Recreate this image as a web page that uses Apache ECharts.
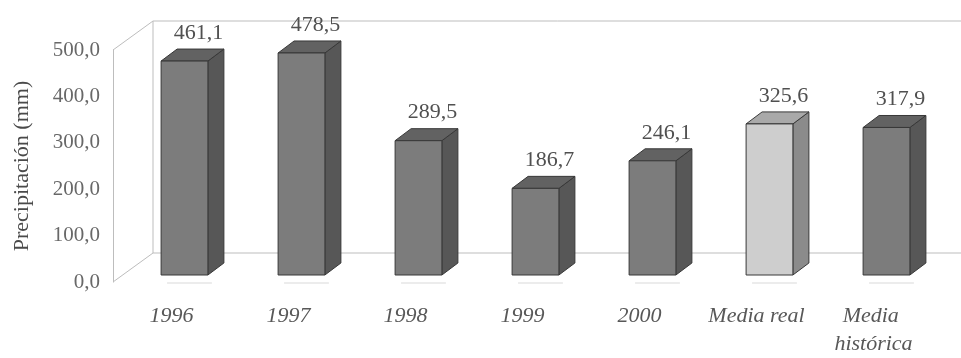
<!DOCTYPE html>
<html>
<head>
<meta charset="utf-8">
<script src="https://cdn.jsdelivr.net/npm/echarts@6/dist/echarts.min.js"></script>
<style>
  html, body { margin: 0; padding: 0; background: #ffffff; }
  #chart { width: 961px; height: 358px; }
</style>
</head>
<body>
<div id="chart"></div>
<script>
// Annual precipitation and the two averages
const categories = ['1996', '1997', '1998', '1999', '2000', 'Media real', 'Media histórica'];
const precipitation = [461.1, 478.5, 289.5, 186.7, 246.1, 325.6, 317.9];
const highlighted = 'Media real';
const yMin = 0;
const yMax = 500;
const yStep = 100;

const SERIF = '"Liberation Serif", "DejaVu Serif", serif';
const fmt = v => v.toFixed(1).replace('.', ',');

// Pseudo-3D geometry (pixels)
const WALL_DX = 40, WALL_DY = -29;        // depth of the floor / back wall
const BAR_SHIFT_X = 13, BAR_SHIFT_Y = -7; // bars sit a little behind the front edge
const BAR_DX = 16, BAR_DY = -12;          // depth of each bar
const BAR_RATIO = 0.40;                   // front face width vs. category band

const normalFill = { front: '#7c7c7c', top: '#626262', side: '#575757' };
const lightFill = { front: '#cecece', top: '#a9a9a9', side: '#8b8b8b' };
const EDGE = '#383838';
const WALL = '#bdbdbd';

function renderFrame(params, api) {
  const cs = params.coordSys;
  const x0 = cs.x, x1 = cs.x + cs.width;
  const yT = cs.y, yB = cs.y + cs.height;
  const line = (a, b, c, d) => ({
    type: 'line',
    shape: { x1: a, y1: b, x2: c, y2: d },
    style: { stroke: WALL, lineWidth: 1 }
  });
  return {
    type: 'group',
    children: [
      line(x0, yB, x0 + WALL_DX, yB + WALL_DY),
      line(x0, yT, x0 + WALL_DX, yT + WALL_DY),
      line(x0 + WALL_DX, yT + WALL_DY, x0 + WALL_DX, yB + WALL_DY),
      line(x0 + WALL_DX, yT + WALL_DY, x1 + WALL_DX, yT + WALL_DY),
      line(x0 + WALL_DX, yB + WALL_DY, x1 + WALL_DX, yB + WALL_DY)
    ]
  };
}

function renderBar(params, api) {
  const i = api.value(0);
  const v = api.value(1);
  const base = api.coord([i, 0]);
  const peak = api.coord([i, v]);
  const band = api.size([1, 0])[0];
  const w = band * BAR_RATIO;
  const cx = base[0] + BAR_SHIFT_X;
  const xl = cx - w / 2, xr = cx + w / 2;
  const yb = base[1] + BAR_SHIFT_Y;
  const yt = peak[1] + BAR_SHIFT_Y;
  const pal = categories[i] === highlighted ? lightFill : normalFill;
  const edge = { stroke: EDGE, lineWidth: 1, lineJoin: 'round' };
  return {
    type: 'group',
    children: [
      {
        type: 'line',
        shape: { x1: xl + 6, y1: base[1] + 1, x2: xr + 4, y2: base[1] + 1 },
        style: { stroke: '#ececec', lineWidth: 2 }
      },
      {
        type: 'polygon',
        shape: { points: [[xr, yb], [xr + BAR_DX, yb + BAR_DY], [xr + BAR_DX, yt + BAR_DY], [xr, yt]] },
        style: Object.assign({ fill: pal.side }, edge)
      },
      {
        type: 'polygon',
        shape: { points: [[xl, yt], [xr, yt], [xr + BAR_DX, yt + BAR_DY], [xl + BAR_DX, yt + BAR_DY]] },
        style: Object.assign({ fill: pal.top }, edge)
      },
      {
        type: 'rect',
        shape: { x: xl, y: yt, width: w, height: yb - yt },
        style: Object.assign({ fill: pal.front }, edge)
      },
      {
        type: 'text',
        style: {
          text: fmt(v),
          x: cx + 14,
          y: yt + BAR_DY - 16,
          align: 'center',
          verticalAlign: 'middle',
          font: '22px ' + SERIF,
          fill: '#505050'
        }
      }
    ]
  };
}

const chart = echarts.init(document.getElementById('chart'), null, { renderer: 'canvas' });
chart.setOption({
  backgroundColor: '#ffffff',
  animation: false,
  grid: { left: 113, right: 29, top: 50, bottom: 65 },
  xAxis: {
    type: 'category',
    data: categories,
    axisLine: { show: false },
    axisTick: { show: false },
    axisLabel: {
      margin: 20,
      fontFamily: SERIF,
      fontStyle: 'italic',
      fontSize: 22,
      lineHeight: 28,
      color: '#585858',
      width: 112,
      overflow: 'break',
      interval: 0
    }
  },
  yAxis: {
    type: 'value',
    min: yMin,
    max: yMax,
    interval: yStep,
    name: 'Precipitación (mm)',
    nameLocation: 'middle',
    nameRotate: 90,
    nameGap: 80,
    nameTextStyle: { fontFamily: SERIF, fontSize: 22, color: '#4a4a4a' },
    axisLine: { show: true, lineStyle: { color: WALL, width: 1 } },
    axisTick: { show: false },
    splitLine: { show: false },
    axisLabel: {
      margin: 13,
      fontFamily: SERIF,
      fontSize: 21,
      color: '#686868',
      formatter: v => fmt(v)
    }
  },
  series: [
    {
      type: 'custom',
      name: 'frame',
      clip: false,
      silent: true,
      z: 1,
      renderItem: renderFrame,
      data: [[0, 0]]
    },
    {
      type: 'custom',
      name: 'Precipitación',
      clip: false,
      z: 2,
      renderItem: renderBar,
      encode: { x: 0, y: 1 },
      data: precipitation.map((v, i) => [i, v])
    }
  ]
});
</script>
</body>
</html>
